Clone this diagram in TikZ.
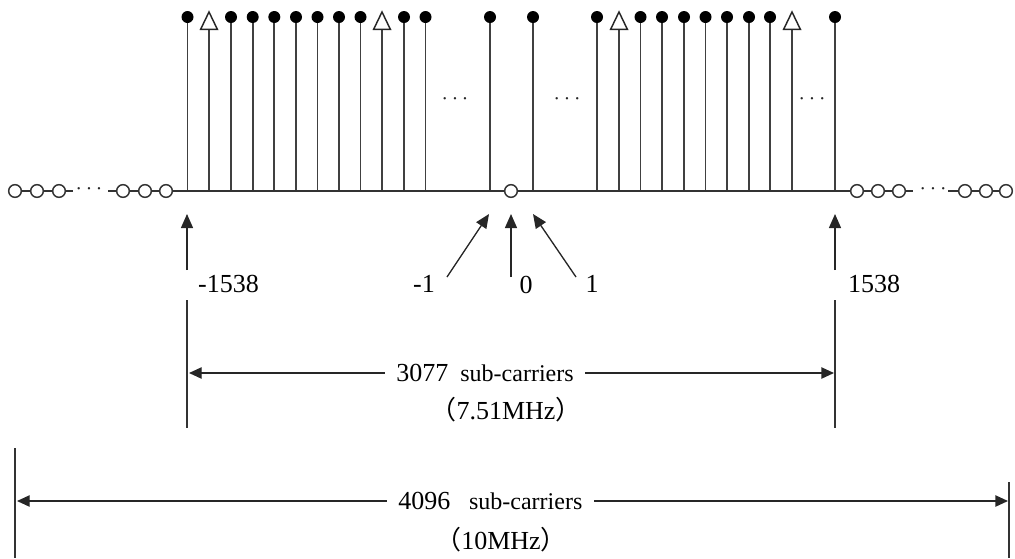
\documentclass[tikz,border=0pt]{standalone}
\usepackage{fontspec}
\setmainfont{Liberation Serif}
\newfontfamily\cjk{Noto Sans CJK SC}
\usetikzlibrary{arrows.meta,shapes.geometric}

\newcommand\numfont{\fontsize{19.5}{22}\selectfont}
\newcommand\subfont{\fontsize{18}{20}\selectfont}

\begin{document}
\begin{tikzpicture}[
    x=0.75pt, y=-0.75pt,
    line width=1.1pt,
    color=black!80,
    every node/.style={text=black},
    dot/.style={circle, fill=black, inner sep=0pt, minimum size=9pt},
    hole/.style={circle, draw=black!80, fill=white, line width=1.1pt, inner sep=0pt, minimum size=9.5pt},
    pilot/.style={isosceles triangle, isosceles triangle stretches, shape border rotate=90,
        draw=black!85, fill=white, line width=1.1pt, inner sep=0pt,
        minimum width=12.5pt, minimum height=13pt},
    stem/.style={line width=1.4pt, black!75},
    arr/.style={-{Triangle[length=10.5pt,width=9pt]}, line width=1pt, black!85},
    dimarr/.style={{Triangle[length=9.5pt,width=8.5pt]}-, line width=1pt, black!85},
    ell/.style={font=\fontsize{17}{17}\selectfont, inner sep=0pt, text=black!85}
]
    \useasboundingbox (0,0) rectangle (1015,558);

    % --- STEMS WITH DATA SUB-CARRIERS ---
    \foreach \x [count=\k] in {187.5,231,252.7,274.3,296,317.5,339,360.5,404,425.5,
                               490,533,
                               597,640.5,662,684,705.5,727,749,770,835} {
        \coordinate (s\k) at (\x,191);
        \coordinate (d\k) at (\x,17);
        \draw[stem] (s\k) -- (d\k);
        \node[dot] (m\k) at (d\k) {};
    }

    % --- STEMS WITH PILOTS ---
    \foreach \x [count=\k] in {209,382,619,792} {
        \coordinate (ps\k) at (\x,191);
        \coordinate (pt\k) at (\x,30);
        \draw[stem] (ps\k) -- (pt\k);
        \node[pilot, anchor=south] (p\k) at (pt\k) {};
    }

    % --- BASELINE WITH NULL SUB-CARRIERS ---
    \node[hole] (o1) at (15,191) {};
    \node[hole] (o2) at (37,191) {};
    \node[hole] (o3) at (59,191) {};
    \node[hole] (o4) at (123,191) {};
    \node[hole] (o5) at (145,191) {};
    \node[hole] (o6) at (166,191) {};
    \node[hole] (z)  at (511,191) {};
    \node[hole] (r1) at (857,191) {};
    \node[hole] (r2) at (878,191) {};
    \node[hole] (r3) at (899,191) {};
    \node[hole] (r4) at (965,191) {};
    \node[hole] (r5) at (986,191) {};
    \node[hole] (r6) at (1006,191) {};

    \coordinate (g1) at (73,191);
    \coordinate (g2) at (108,191);
    \coordinate (g3) at (913,191);
    \coordinate (g4) at (948,191);

    \draw (o1) -- (o2) -- (o3) -- (g1);
    \draw (g2) -- (o4) -- (o5) -- (o6) -- (z) -- (r1) -- (r2) -- (r3) -- (g3);
    \draw (g4) -- (r4) -- (r5) -- (r6);

    % Ellipses
    \node[ell] (e1) at (89,189) {$\cdots$};
    \node[ell] (e2) at (933,189) {$\cdots$};
    \node[ell] (e3) at (455,99) {$\cdots$};
    \node[ell] (e4) at (567,99) {$\cdots$};
    \node[ell] (e5) at (812,99) {$\cdots$};

    % --- INDEX ARROWS ---
    \coordinate (aL)  at (187,270);  \coordinate (aLt) at (187,214);
    \coordinate (aM)  at (447,277);  \coordinate (aMt) at (489,214);
    \coordinate (aZ)  at (511,277);  \coordinate (aZt) at (511,214);
    \coordinate (aP)  at (576,277);  \coordinate (aPt) at (533,214);
    \coordinate (aR)  at (835,270);  \coordinate (aRt) at (835,214);

    \draw[arr] (aL) -- (aLt);
    \draw[arr] (aM) -- (aMt);
    \draw[arr] (aZ) -- (aZt);
    \draw[arr] (aP) -- (aPt);
    \draw[arr] (aR) -- (aRt);

    \node[anchor=west, font=\numfont] (nL) at (193,284) {-1538};
    \node[font=\numfont] (nM) at (424,284) {-1};
    \node[font=\numfont] (nZ) at (526,285) {0};
    \node[font=\numfont] (nP) at (592,284) {1};
    \node[anchor=west, font=\numfont] (nR) at (843,284) {1538};

    % --- BANDWIDTH 3077 ---
    \coordinate (v1a) at (187,300);  \coordinate (v1b) at (187,428);
    \coordinate (v2a) at (835,300);  \coordinate (v2b) at (835,428);
    \draw (v1a) -- (v1b);
    \draw (v2a) -- (v2b);

    \coordinate (h1) at (189,373);
    \coordinate (h2) at (834,373);
    \node[anchor=west, inner xsep=8pt] (t3077) at (385,373)
        {\numfont 3077\hspace{9pt}\subfont sub-carriers\hspace{10pt}};
    \draw[dimarr] (h1) -- (t3077.west);
    \draw[dimarr] (h2) -- (t3077.east);
    \node[font=\numfont] (f751) at (506,410) {{\cjk （}7.51MHz{\cjk ）}};

    % --- BANDWIDTH 4096 ---
    \coordinate (v3a) at (15,448);   \coordinate (v3b) at (15,558);
    \coordinate (v4a) at (1009,482); \coordinate (v4b) at (1009,558);
    \draw (v3a) -- (v3b);
    \draw (v4a) -- (v4b);

    \coordinate (h3) at (17,501);
    \coordinate (h4) at (1008,501);
    \node[anchor=west, inner xsep=8pt] (t4096) at (387,501)
        {\numfont 4096\hspace{14pt}\subfont sub-carriers\hspace{22pt}};
    \draw[dimarr] (h3) -- (t4096.west);
    \draw[dimarr] (h4) -- (t4096.east);
    \node[font=\numfont] (f10) at (501,540) {{\cjk （}10MHz{\cjk ）}};

\end{tikzpicture}
\end{document}
